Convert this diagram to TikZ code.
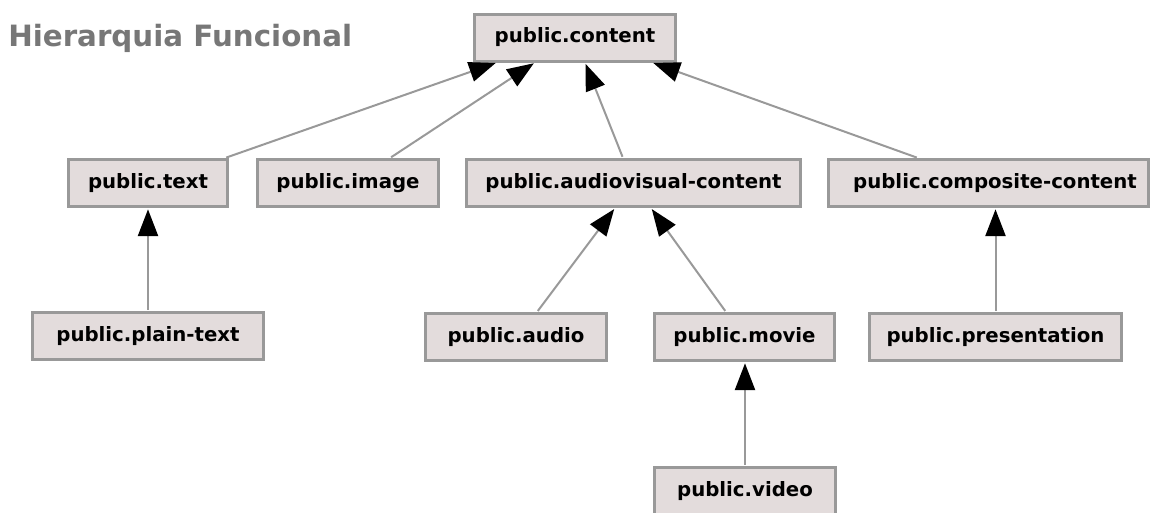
\documentclass[tikz,border=0pt]{standalone}
\usepackage{fontspec}
\setmainfont{DejaVu Sans}
\usetikzlibrary{arrows.meta}
\definecolor{boxfill}{HTML}{E3DCDC}
\definecolor{boxline}{HTML}{999999}
\definecolor{edgegray}{HTML}{999999}
\definecolor{titlegray}{HTML}{777777}
\begin{document}
\begin{tikzpicture}[x=0.75pt,y=-0.75pt,
  utibox/.style={draw=boxline, line width=2.25pt, fill=boxfill, inner sep=0pt,
    minimum height=35.25pt, font=\fontsize{14.8}{17}\selectfont\bfseries},
  isa/.style={draw=edgegray, line width=1.5pt, shorten >=1pt, shorten <=1pt,
    -{Triangle[length=20pt,width=15pt,color=black]}}]
\useasboundingbox (0,0) rectangle (1150,512);

% title
\node[anchor=base west, inner sep=0pt, text=titlegray,
  font=\fontsize{22}{26}\selectfont\bfseries] (title) at (8,46) {Hierarquia Funcional};

% type nodes
\node[utibox, minimum width=150.75pt] (content) at (575,37.5) {public.content};

\node[utibox, minimum width=119.25pt] (text) at (148,183) {public.text};
\node[utibox, minimum width=135.75pt] (image) at (348,183) {public.image};
\node[utibox, minimum width=250.5pt] (av) at (633.5,183) {public.audiovisual-content};
\node[utibox, minimum width=240pt] (composite) at (988.5,183) {\hspace*{9.75pt}public.composite-content};

\node[utibox, minimum width=173.25pt] (plain) at (148,336) {public.plain-text};
\node[utibox, minimum width=135.75pt] (audio) at (516,337) {public.audio};
\node[utibox, minimum width=135pt] (movie) at (744.5,337) {public.movie};
\node[utibox, minimum width=189pt] (pres) at (995.5,337) {public.presentation};

\node[utibox, minimum width=135.75pt] (video) at (745,491) {public.video};

% conformance edges (child -> parent)
\draw[isa] ([xshift=57.75pt]text.north) -- ([xshift=-58.5pt]content.south);
\draw[isa] ([xshift=31.5pt]image.north) -- ([xshift=-30pt]content.south);
\draw[isa] ([xshift=-7.875pt]av.north) -- ([xshift=7.5pt]content.south);
\draw[isa] ([xshift=-52.875pt]composite.north) -- ([xshift=57.75pt]content.south);

\draw[isa] (plain.north) -- (text.south);
\draw[isa] ([xshift=15.75pt]audio.north) -- ([xshift=-13.875pt]av.south);
\draw[isa] ([xshift=-13.875pt]movie.north) -- ([xshift=13.125pt]av.south);
\draw[isa] (pres.north) -- (pres.north |- composite.south);
\draw[isa] (video.north) -- (video.north |- movie.south);
\end{tikzpicture}
\end{document}
